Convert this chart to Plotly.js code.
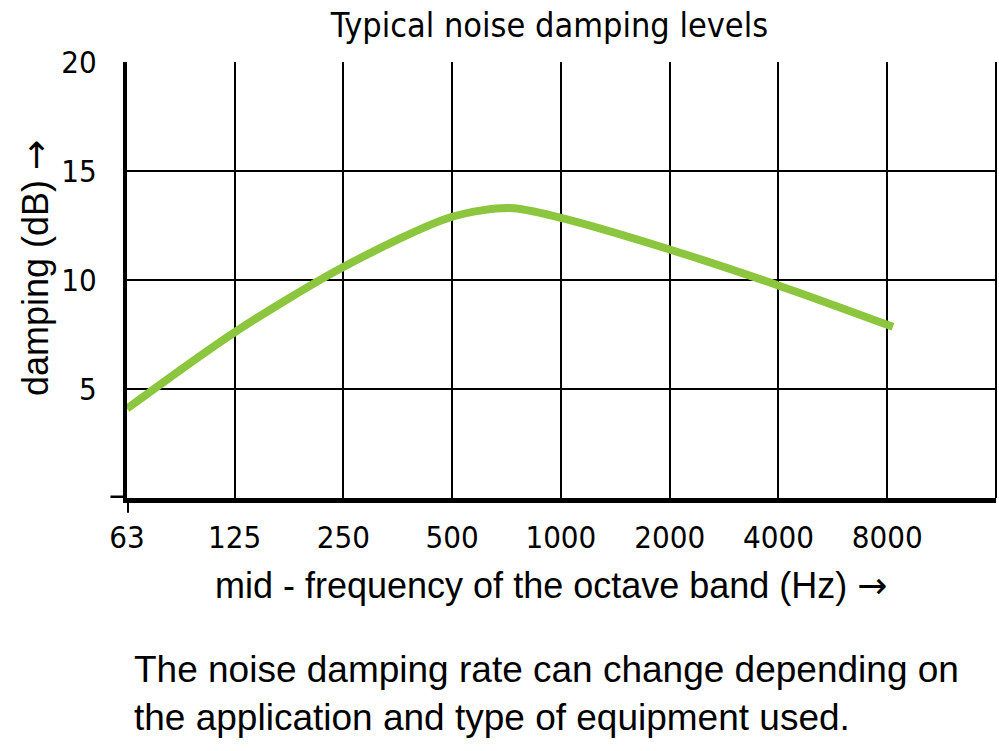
<!DOCTYPE html>
<html><head><meta charset="utf-8">
<script src="https://cdn.plot.ly/plotly-3.0.1.min.js"></script>
<style>html,body{margin:0;padding:0;background:#fff}</style>
</head><body><div id="chart" style="width:999px;height:751px"></div>
<script>
// data
const freq = [63, 125, 250, 500, 722, 1000, 2000, 4000, 8300];
const damping = [4.1, 7.6, 10.6, 12.9, 13.3, 12.85, 11.4, 9.75, 7.85];
const xTickVals = [63, 125, 250, 500, 1000, 2000, 4000, 8000, 16000];
const xTickText = ['63', '125', '250', '500', '1000', '2000', '4000', '8000', ''];
const yTickVals = [0, 5, 10, 15, 20];
const yTickText = ['', '5', '10', '15', '20'];

const narrow = '"Liberation Sans Narrow", "DejaVu Sans Condensed", Arial, sans-serif';
const sans = '"Liberation Sans", Arial, sans-serif';
const arrow = '<span style="font-family:\'DejaVu Sans\'">\u2192</span>';

const trace = {
  x: freq, y: damping, type: 'scatter', mode: 'lines',
  line: {color: '#8cc63e', width: 8, shape: 'spline', smoothing: 0.8},
  hoverinfo: 'skip'
};

const layout = {
  width: 999, height: 751,
  margin: {l: 127, r: 3, t: 62, b: 253},
  paper_bgcolor: '#fff', plot_bgcolor: '#fff',
  showlegend: false,
  title: {text: 'Typical noise damping levels', font: {family: narrow, size: 34, color: '#000'},
          x: 0.55, xanchor: 'center', y: 0.967, yanchor: 'middle'},
  xaxis: {
    type: 'log', range: [Math.log10(63), Math.log10(16000)],
    tickvals: xTickVals, ticktext: xTickText,
    showgrid: true, gridcolor: '#000', gridwidth: 2,
    showline: true, linecolor: '#000', linewidth: 5,
    ticks: '', ticklabelstandoff: 8,
    tickfont: {family: narrow, size: 31, color: '#000'},
    zeroline: false, fixedrange: true
  },
  yaxis: {
    range: [0, 20], tickvals: yTickVals, ticktext: yTickText,
    showgrid: true, gridcolor: '#000', gridwidth: 2,
    showline: true, linecolor: '#000', linewidth: 4,
    ticks: '', ticklabelstandoff: 20,
    tickfont: {family: narrow, size: 31, color: '#000'},
    zeroline: false, fixedrange: true
  },
  shapes: [
    {type: 'line', xref: 'paper', yref: 'y', x0: -0.019, x1: 0, y0: 0, y1: 0, line: {color: '#000', width: 5}},
    {type: 'line', xref: 'x', yref: 'paper', x0: 63, x1: 63, y0: 0, y1: -0.034, line: {color: '#000', width: 4}},
    {type: 'line', xref: 'paper', yref: 'paper', x0: 1, x1: 1, y0: 0, y1: 1, line: {color: '#000', width: 2}}
  ],
  annotations: [
    {text: 'damping (dB) ' + arrow, xref: 'paper', yref: 'paper', x: -0.106, y: 0.527, textangle: -90,
     showarrow: false, xanchor: 'center', yanchor: 'middle', font: {family: sans, size: 36, color: '#000'}},
    {text: 'mid - frequency of the octave band (Hz) ' + arrow, xref: 'paper', yref: 'paper', x: 0.488, y: -0.2,
     showarrow: false, xanchor: 'center', yanchor: 'middle', font: {family: sans, size: 36, color: '#000'}},
    {text: 'The noise damping rate can change depending on<br>the application and type of equipment used.',
     xref: 'paper', yref: 'paper', x: 0.006, y: -0.342, align: 'left',
     showarrow: false, xanchor: 'left', yanchor: 'top', font: {family: sans, size: 37, color: '#000'}}
  ]
};

Plotly.newPlot('chart', [trace], layout, {displayModeBar: false, staticPlot: true});
</script>
</body></html>
